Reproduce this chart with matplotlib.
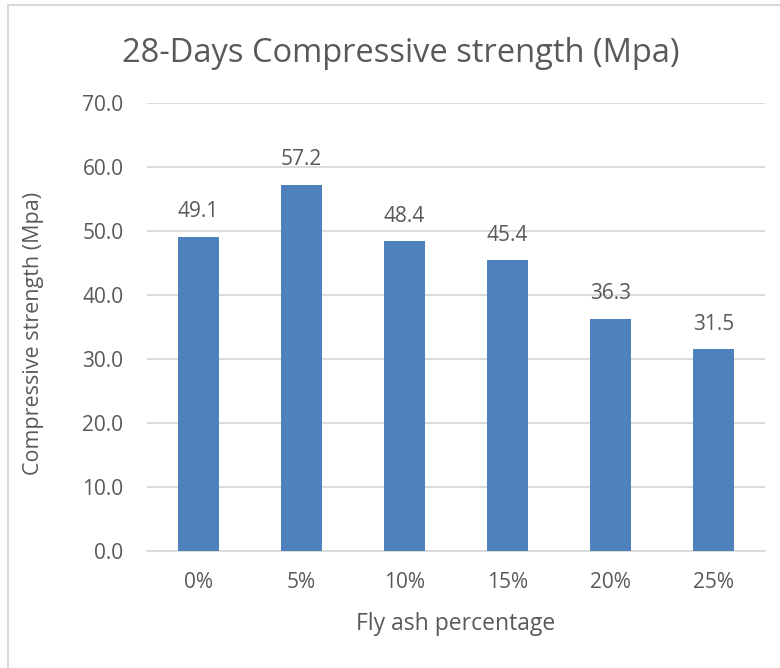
import matplotlib.pyplot as plt
from matplotlib.lines import Line2D

categories = ['0%', '5%', '10%', '15%', '20%', '25%']
strength = [49.1, 57.2, 48.4, 45.4, 36.3, 31.5]
y_ticks = [0, 10, 20, 30, 40, 50, 60, 70]

bar_color = '#4F81BD'
text_color = '#595959'
grid_color = '#D9D9D9'

plt.rcParams['font.family'] = ['Open Sans', 'DejaVu Sans']

fig = plt.figure(figsize=(7.8, 6.68), dpi=100)
ax = fig.add_axes([147 / 780, 1 - 551 / 668, 618 / 780, 448 / 668])

x = range(len(categories))
bars = ax.bar(x, strength, width=0.4, color=bar_color, zorder=3)

for xi, v in zip(x, strength):
    ax.annotate(f'{v:.1f}', (xi, v), xytext=(0, 18), textcoords='offset points',
                ha='center', va='center', fontsize=15, color=text_color)

ax.set_xlim(-0.5, len(categories) - 0.5)
ax.set_ylim(0, 70)
ax.set_yticks(y_ticks)
ax.set_yticklabels([f'{t:.1f}' for t in y_ticks])
ax.set_xticks(list(x))
ax.set_xticklabels(categories)
ax.tick_params(axis='both', length=0, labelsize=15, colors=text_color)
ax.tick_params(axis='y', pad=17)
ax.tick_params(axis='x', pad=15)
ax.grid(axis='y', color=grid_color, linewidth=1.3, zorder=0)
for side in ['top', 'right', 'left']:
    ax.spines[side].set_visible(False)
ax.spines['bottom'].set_color(grid_color)
ax.spines['bottom'].set_linewidth(1.3)

ax.set_ylabel('Compressive strength (Mpa)', fontsize=15.5, color=text_color, va='center')
ax.yaxis.set_label_coords((34 - 147) / 618, 0.485)
ax.set_xlabel('Fly ash percentage', fontsize=16.5, color=text_color, va='center')
ax.xaxis.set_label_coords(0.5, -(624 - 551) / 448)

fig.text(401 / 780, 1 - 54 / 668, '28-Days Compressive strength (Mpa)', ha='center', va='center',
         fontsize=23.5, color=text_color)

# chart frame edges
fig.add_artist(Line2D([8 / 780, 8 / 780], [0, 1 - 5 / 668], transform=fig.transFigure, color=grid_color, lw=1.5))
fig.add_artist(Line2D([8 / 780, 1], [1 - 5 / 668, 1 - 5 / 668], transform=fig.transFigure, color=grid_color, lw=1.5))

fig.savefig('out.png', dpi=100)
